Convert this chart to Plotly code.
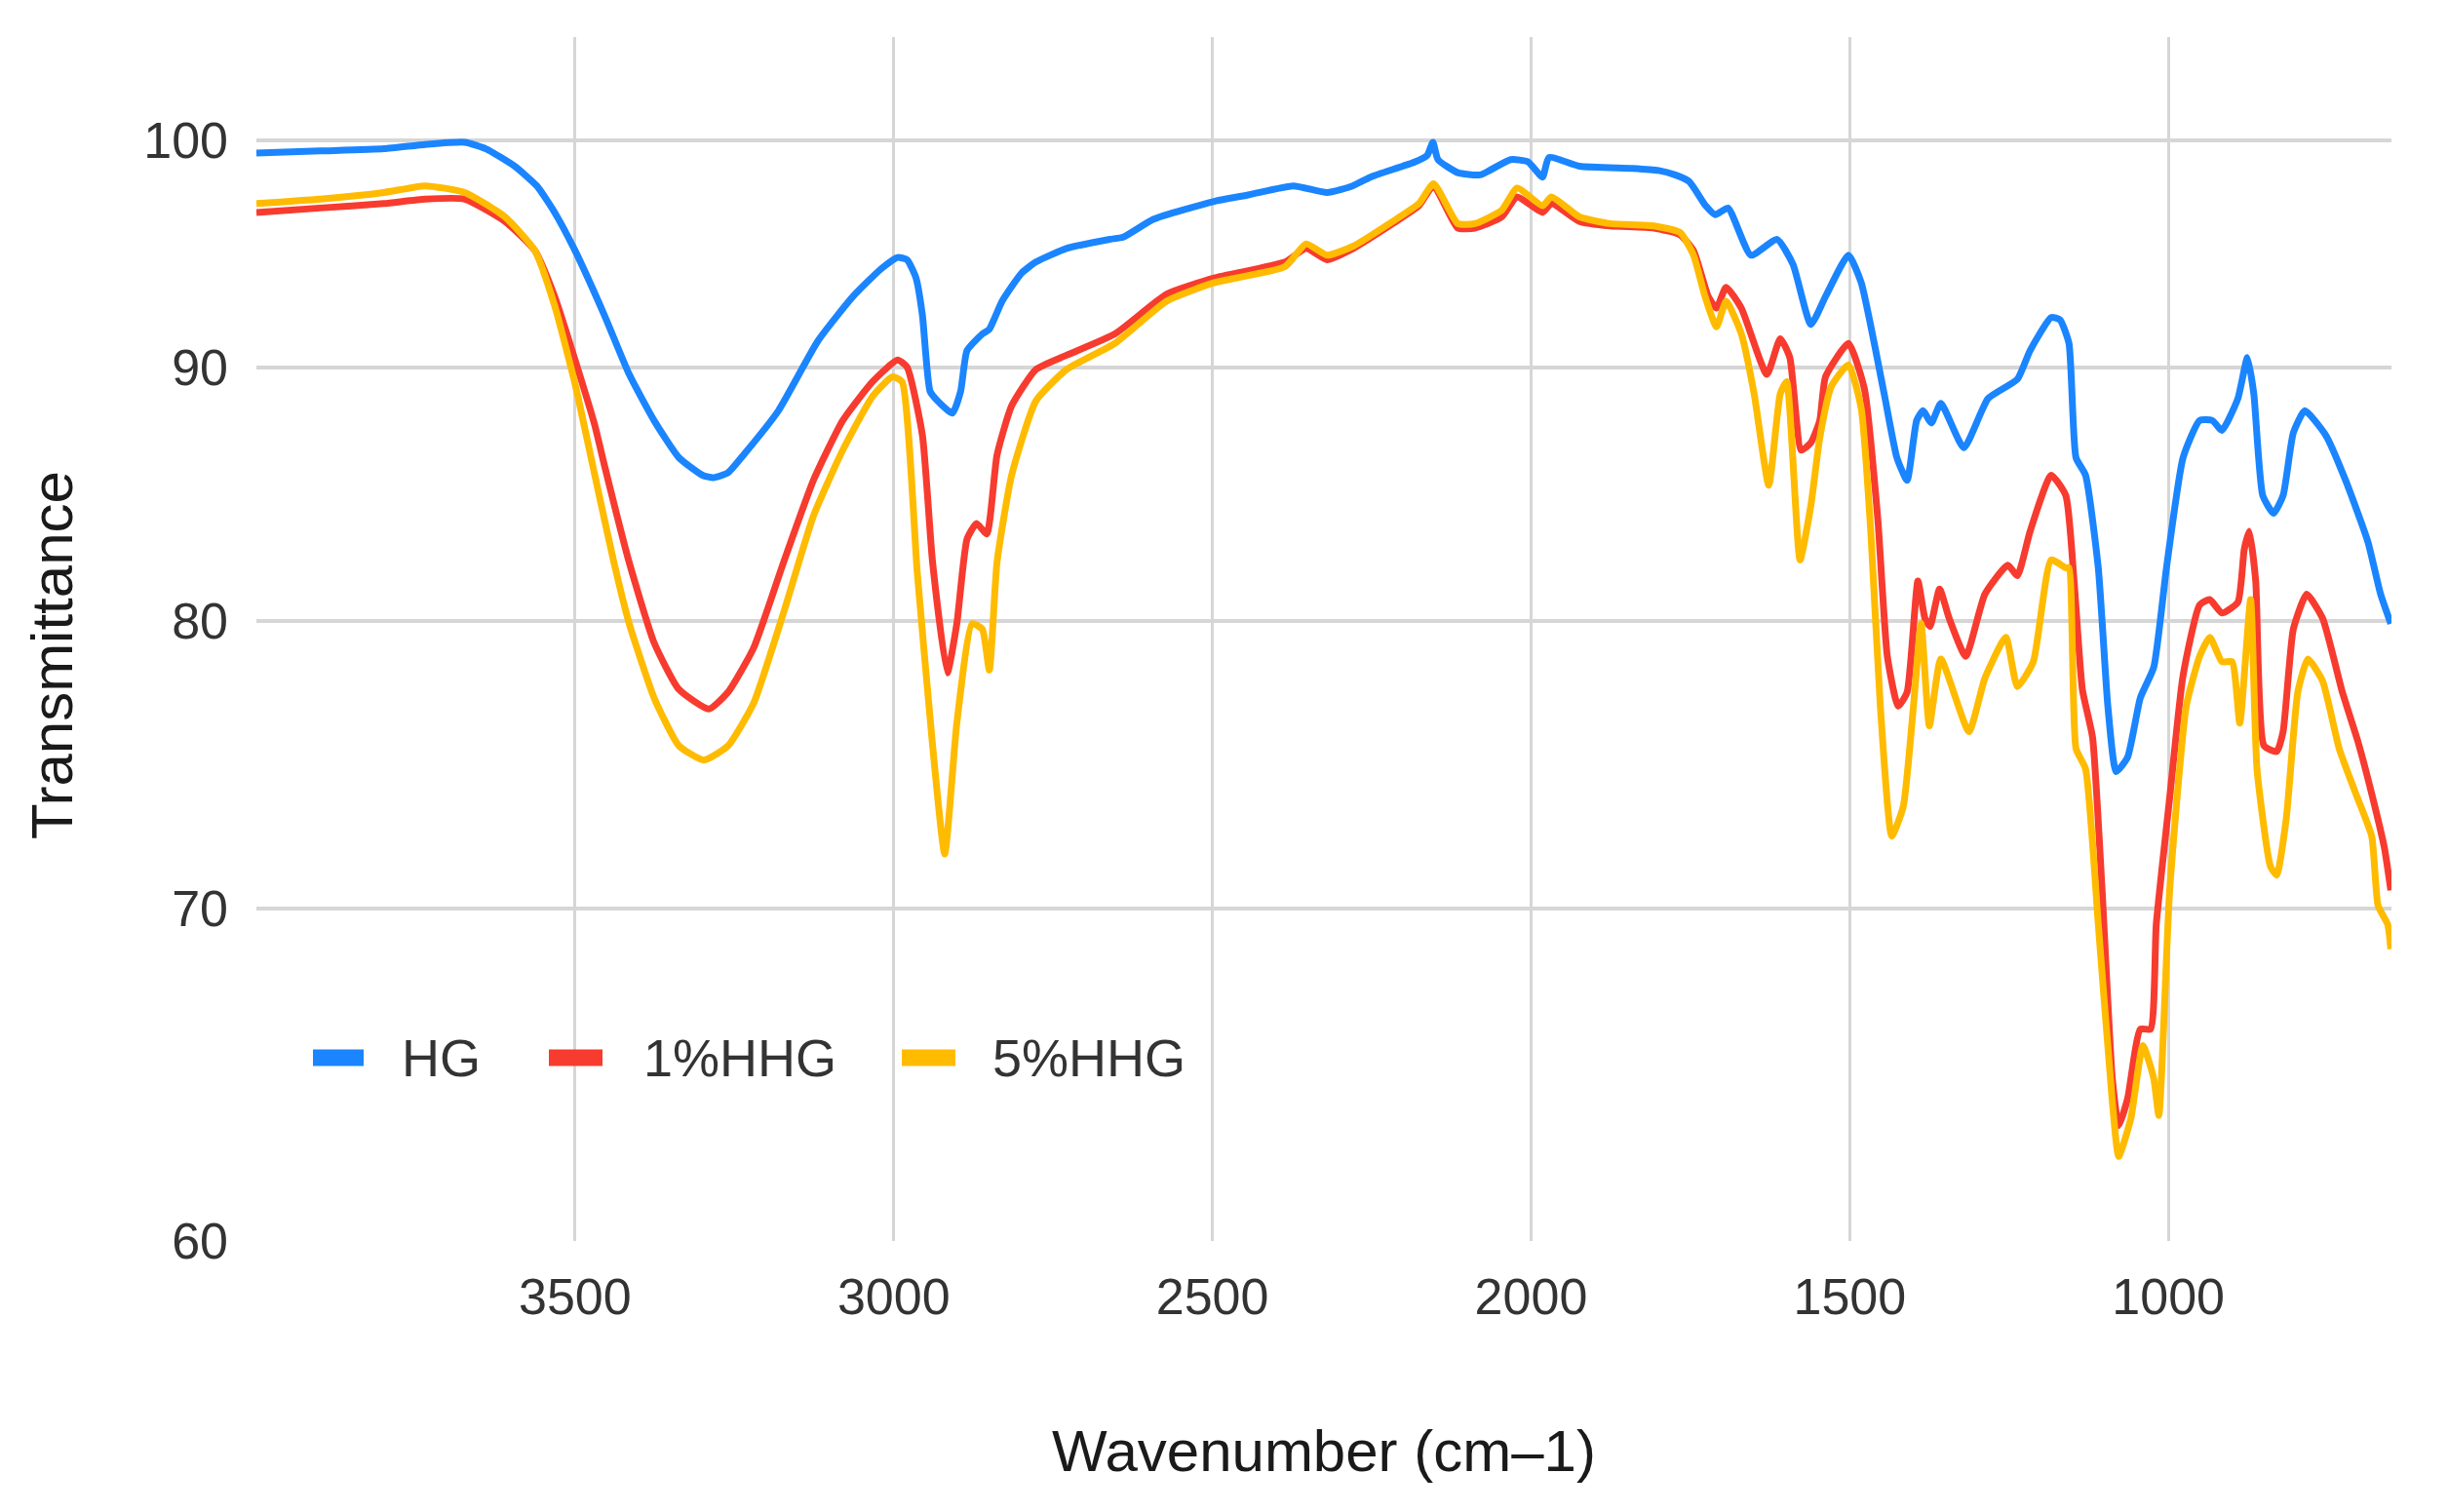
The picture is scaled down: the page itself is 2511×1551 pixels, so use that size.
import plotly.graph_objects as go
import math

# ---------------- data ----------------
hg_wn = [4000, 3900, 3800, 3735, 3673, 3640, 3595, 3560, 3532, 3500, 3454, 3415, 3376, 3337, 3300,
         3283, 3260, 3236, 3181, 3119, 3064, 3020, 2994, 2979, 2965, 2955, 2943, 2931, 2908, 2895,
         2885, 2861, 2850, 2830, 2800, 2777, 2729, 2661, 2640, 2592, 2497, 2442, 2373, 2320, 2280,
         2252, 2182, 2163, 2154, 2146, 2115, 2080, 2032, 2005, 1982, 1972, 1924, 1841, 1800, 1774,
         1752, 1726, 1711, 1691, 1655, 1614, 1589, 1561, 1538, 1502, 1482, 1446, 1426, 1410, 1395,
         1385, 1372, 1357, 1321, 1283, 1237, 1217, 1184, 1170, 1156, 1145, 1130, 1110, 1095, 1082,
         1064, 1044, 1023, 1003, 977, 951, 931, 916, 891, 876, 866, 852, 835, 820, 804,
         786, 753, 722, 687, 667, 651]
hg_t = [99.4, 99.5, 99.6, 99.8, 99.9, 99.6, 98.8, 97.9, 96.7, 95.0, 92.2, 89.7, 87.8, 86.3, 85.6,
        85.5, 85.7, 86.4, 88.2, 91.1, 93.0, 94.2, 94.7, 94.6, 93.8, 92.2, 89.0, 88.6, 88.1, 89.0,
        90.7, 91.4, 91.6, 92.8, 94.0, 94.5, 95.1, 95.5, 95.6, 96.4, 97.2, 97.5, 97.9, 97.6, 97.9,
        98.3, 99.0, 99.3, 99.9, 99.1, 98.5, 98.4, 99.1, 99.0, 98.3, 99.2, 98.8, 98.7, 98.6, 98.4,
        98.1, 97.0, 96.6, 96.9, 94.8, 95.5, 94.4, 91.8, 93.0, 94.8, 93.6, 88.9, 86.3, 85.4, 87.8,
        88.2, 87.7, 88.5, 86.7, 88.7, 89.5, 90.7, 92.1, 92.0, 91.0, 86.3, 85.6, 82.0, 76.9, 74.6,
        75.1, 77.2, 78.3, 82.0, 86.3, 87.8, 87.8, 87.4, 88.7, 90.4, 88.9, 84.8, 84.1, 84.8, 87.3,
        88.2, 87.2, 85.4, 83.0, 81.0, 79.9]

hhg1_wn = [4000, 3900, 3800, 3735, 3673, 3610, 3563, 3532, 3500, 3469, 3454, 3415, 3376, 3337, 3290,
           3260, 3220, 3173, 3126, 3080, 3033, 2994, 2979, 2955, 2939, 2916, 2901, 2885, 2870, 2854,
           2838, 2815, 2777, 2729, 2653, 2572, 2497, 2386, 2353, 2320, 2279, 2217, 2176, 2153, 2115,
           2088, 2046, 2022, 1982, 1968, 1924, 1876, 1807, 1766, 1745, 1722, 1709, 1694, 1670, 1630,
           1609, 1594, 1576, 1561, 1547, 1538, 1502, 1477, 1456, 1441, 1424, 1410, 1393, 1382, 1374,
           1359, 1344, 1318, 1288, 1252, 1237, 1217, 1184, 1161, 1148, 1135, 1119, 1104, 1088, 1078,
           1064, 1044, 1028, 1019, 998, 977, 951, 935, 916, 891, 881, 873, 863, 850, 830,
           820, 804, 783, 758, 727, 702, 676, 661, 651]
hhg1_t = [96.7, 96.9, 97.1, 97.3, 97.3, 96.3, 95.0, 93.0, 90.3, 87.6, 86.0, 82.2, 79.2, 77.5, 76.8,
          77.4, 79.0, 82.2, 85.4, 87.8, 89.4, 90.3, 90.0, 87.2, 82.2, 78.1, 79.9, 83.1, 83.7, 83.3,
          86.4, 88.4, 89.9, 90.5, 91.4, 93.1, 93.8, 94.5, 95.1, 94.6, 95.1, 96.2, 97.0, 97.9, 96.0,
          96.0, 96.5, 97.4, 96.7, 97.1, 96.3, 96.1, 96.0, 95.7, 95.0, 93.0, 92.5, 93.4, 92.5, 89.7,
          91.2, 90.4, 86.6, 86.9, 87.8, 89.6, 91.0, 89.1, 83.9, 78.7, 76.9, 77.4, 81.5, 80.1, 79.8,
          81.2, 80.1, 78.7, 81.0, 82.1, 81.7, 83.4, 85.6, 84.8, 81.5, 77.5, 75.8, 70.6, 64.7, 63.3,
          64.1, 66.2, 66.2, 69.5, 73.7, 78.0, 80.6, 80.8, 80.3, 80.7, 82.7, 83.4, 81.5, 75.5, 75.3,
          76.0, 79.7, 81.0, 80.1, 77.4, 75.6, 73.4, 72.0, 70.6]

hhg5_wn = [4000, 3900, 3800, 3735, 3673, 3610, 3563, 3532, 3500, 3469, 3439, 3415, 3376, 3337, 3298,
           3260, 3220, 3173, 3126, 3080, 3033, 3002, 2987, 2963, 2939, 2920, 2901, 2877, 2861, 2850,
           2838, 2815, 2777, 2729, 2653, 2572, 2497, 2386, 2353, 2320, 2279, 2217, 2176, 2153, 2115,
           2088, 2046, 2022, 1982, 1968, 1924, 1876, 1807, 1766, 1745, 1727, 1709, 1694, 1670, 1650,
           1627, 1609, 1599, 1578, 1561, 1547, 1529, 1502, 1482, 1467, 1452, 1434, 1416, 1400, 1388,
           1375, 1357, 1313, 1288, 1255, 1237, 1212, 1184, 1161, 1156, 1145, 1130, 1110, 1088, 1078,
           1059, 1040, 1023, 1015, 998, 972, 951, 935, 916, 900, 888, 871, 861, 840, 830,
           815, 797, 781, 758, 732, 707, 681, 671, 656, 651]
hhg5_t = [97.1, 97.3, 97.6, 97.9, 97.6, 96.5, 95.0, 92.6, 89.3, 85.6, 82.2, 79.9, 77.2, 75.5, 75.0,
          75.5, 77.0, 80.3, 84.0, 86.6, 88.8, 89.6, 89.4, 81.8, 75.5, 71.8, 76.3, 79.9, 79.7, 78.2,
          82.2, 85.6, 88.6, 89.9, 91.0, 92.8, 93.6, 94.3, 95.3, 94.8, 95.2, 96.3, 97.1, 98.0, 96.2,
          96.2, 96.8, 97.8, 97.0, 97.4, 96.5, 96.2, 96.1, 95.8, 94.8, 93.0, 91.7, 92.8, 91.4, 88.9,
          85.2, 88.9, 89.4, 82.3, 84.4, 87.1, 89.2, 90.1, 88.3, 83.4, 76.9, 72.4, 73.4, 76.9, 79.9,
          76.2, 78.6, 76.0, 77.9, 79.4, 77.6, 78.5, 82.3, 82.0, 82.0, 75.4, 74.7, 69.5, 64.0, 62.4,
          63.5, 65.7, 64.7, 63.6, 70.6, 76.9, 78.7, 79.4, 78.5, 78.5, 76.3, 80.8, 74.7, 71.4, 71.1,
          73.0, 77.4, 78.6, 77.8, 75.4, 73.9, 72.4, 70.1, 69.5, 68.7]

series_names = ["HG", "1%HHG", "5%HHG"]
series_colors = ["#1a85ff", "#f73b2f", "#ffbb00"]
x_ticks = [3500, 3000, 2500, 2000, 1500, 1000]
y_ticks = [60, 70, 80, 90, 100]

# ---------------- figure ----------------
W, H = 2511, 1551
L, R, T, B = 263, 58, 38, 278
pw, ph = W - L - R, H - T - B
base_px = H - B  # pixel row of the plot bottom

fig = go.Figure()
for name, xs, ys, col in zip(series_names, [hg_wn, hhg1_wn, hhg5_wn], [hg_t, hhg1_t, hhg5_t], series_colors):
    fig.add_trace(go.Scatter(x=xs, y=ys, mode="lines", name=name,
                             line=dict(color=col, width=7, shape="spline", smoothing=0.5),
                             showlegend=False))

font_family = "Arial, Liberation Sans, sans-serif"
tick_col = "#333333"
fig.update_layout(
    width=W, height=H,
    margin=dict(l=L, r=R, t=T, b=B, autoexpand=False),
    paper_bgcolor="white", plot_bgcolor="white",
    font=dict(family=font_family, color=tick_col),
)
fig.update_xaxes(range=[4000, 650], tickvals=x_ticks, ticktext=[str(v) for v in x_ticks],
                 showgrid=True, gridcolor="#d6d6d6", gridwidth=3, zeroline=False, showline=False,
                 ticks="", ticklabelstandoff=22, tickfont=dict(size=52, color=tick_col))
fig.update_yaxes(type="log", range=[math.log10(60), math.log10(104.9)], tickvals=y_ticks,
                 ticktext=[str(v) for v in y_ticks],
                 showgrid=True, gridcolor="#d6d6d6", gridwidth=4, zeroline=False, showline=False,
                 ticks="", ticklabelstandoff=28, tickfont=dict(size=52, color=tick_col))

# axis titles
fig.add_annotation(text="Wavenumber (cm–1)", xref="paper", yref="paper",
                   x=0.5, y=(base_px - 1488) / ph,
                   xanchor="center", yanchor="middle", showarrow=False,
                   font=dict(size=60, color="#1a1a1a", family=font_family))
fig.add_annotation(text="Transmittance", xref="paper", yref="paper",
                   x=(53 - L) / pw, y=(base_px - 672) / ph, textangle=-90,
                   xanchor="center", yanchor="middle", showarrow=False,
                   font=dict(size=60, color="#1a1a1a", family=font_family))

# legend (swatches + labels)
leg_y_px = 1085
sw_x = [(321, 373), (563, 618), (925, 980)]
txt_x = [410, 658, 1016]
for (x0, x1), tx, name, col in zip(sw_x, txt_x, series_names, series_colors):
    fig.add_shape(type="rect", xref="paper", yref="paper",
                  x0=(x0 - L) / pw, x1=(x1 - L) / pw,
                  y0=(base_px - leg_y_px - 8.5) / ph, y1=(base_px - leg_y_px + 8.5) / ph,
                  fillcolor=col, line=dict(width=0), layer="above")
    fig.add_annotation(text=name, xref="paper", yref="paper",
                       x=(tx - L) / pw, y=(base_px - leg_y_px) / ph,
                       xanchor="left", yanchor="middle", showarrow=False,
                       font=dict(size=54, color=tick_col, family=font_family))

fig.write_html("out.html")
